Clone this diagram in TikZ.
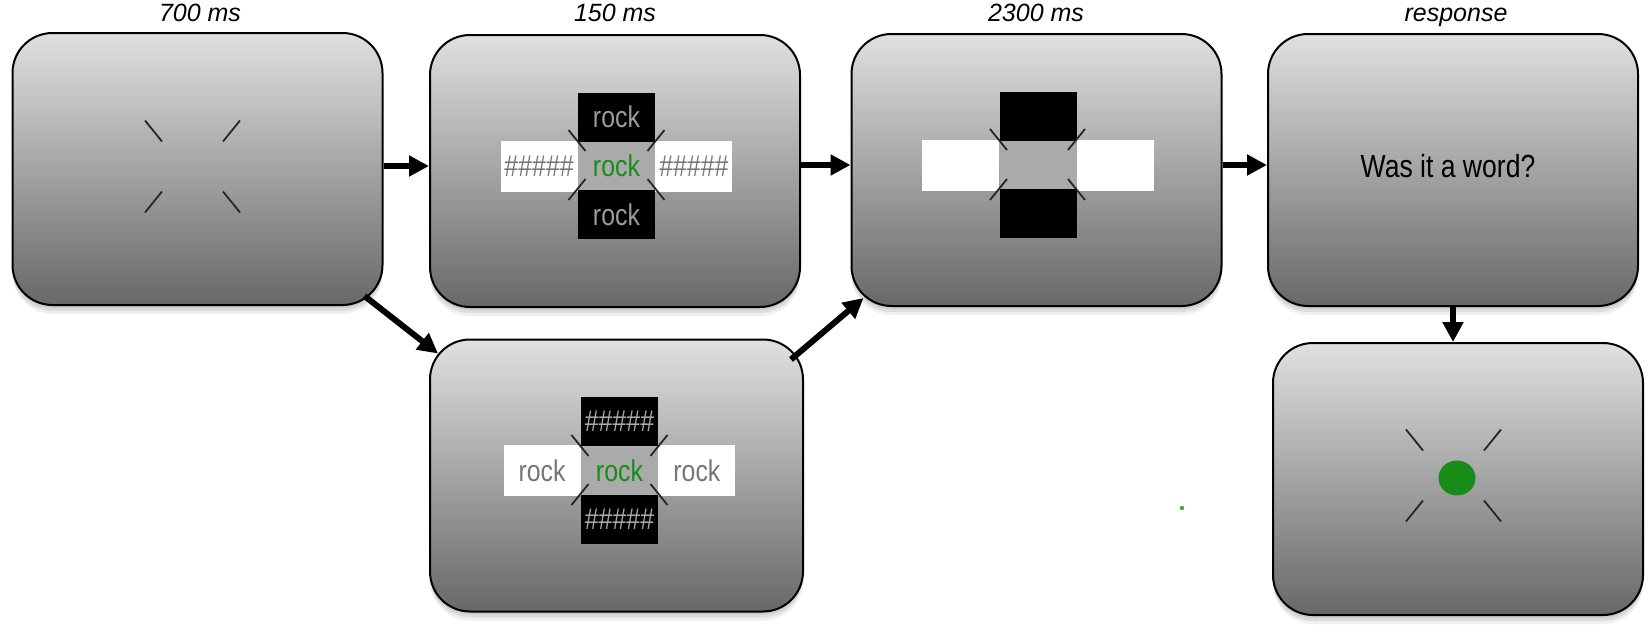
\documentclass[tikz,border=0pt]{standalone}
\usepackage{fontspec}
\setmainfont{Liberation Sans}
\newfontfamily\condfont[FakeStretch=0.83]{Liberation Sans}
\usetikzlibrary{arrows.meta,shadows,positioning}
\definecolor{gtop}{RGB}{224,224,224}
\definecolor{gmid}{RGB}{165,165,165}
\definecolor{gbot}{RGB}{104,104,104}
\definecolor{cgray}{RGB}{170,170,170}
\definecolor{rgreen}{RGB}{24,140,24}
\definecolor{lgtext}{RGB}{155,155,155}
\definecolor{dgtext}{RGB}{118,118,118}
\newcommand\fixmark[4]{%
  \draw[tickline] ({#1-#3},{#2-#4}) -- ({#1-#3-17},{#2-#4-21});
  \draw[tickline] ({#1+#3},{#2-#4}) -- ({#1+#3+17},{#2-#4-21});
  \draw[tickline] ({#1-#3},{#2+#4}) -- ({#1-#3-17},{#2+#4+21});
  \draw[tickline] ({#1+#3},{#2+#4}) -- ({#1+#3+17},{#2+#4+21});
}
\begin{document}
\begin{tikzpicture}[x=1pt,y=-1pt,
  panel/.style={draw=black, line width=2pt, rounded corners=40pt,
    minimum width=370pt, minimum height=272pt, inner sep=0pt,
    top color=gtop, middle color=gmid, bottom color=gbot,
    general shadow={fill=black, opacity=0.08, shadow yshift=-3pt},
    general shadow={fill=black, opacity=0.08, shadow yshift=-6pt},
    general shadow={fill=black, opacity=0.06, shadow yshift=-9pt}},
  timelabel/.style={font=\fontsize{25}{28}\selectfont\itshape, inner sep=0pt, anchor=base},
  cell/.style={minimum width=77pt, inner sep=0pt, font=\condfont\fontsize{30}{30}\selectfont},
  midcell/.style={cell, fill=cgray, minimum height=48pt, text=rgreen},
  blackcell/.style={cell, fill=black, minimum height=49pt},
  whitecell/.style={cell, fill=white, minimum height=51pt},
  tickline/.style={line width=1.8pt, draw=black!85},
  arr/.style={line width=6pt, -{Triangle[length=20pt,width=20pt]}},
  question/.style={font=\condfont\fontsize{32}{34}\selectfont, inner sep=0pt}
]
\useasboundingbox (0,0) rectangle (1650,637);

% panels
\node[panel] (b1) at (197.5,169) {};
\node[panel] (b2) at (615,171) {};
\node[panel] (b3) at (1036.5,170) {};
\node[panel] (b4) at (1453,170) {};
\node[panel] (b5) at (1458,479) {};
\node[panel, minimum width=373pt] (b6) at (616.5,475.5) {};

% time labels
\node[timelabel] (l1) at (200,21) {700 ms};
\node[timelabel] (l2) at (615,21) {150 ms};
\node[timelabel] (l3) at (1036,21) {2300 ms};
\node[timelabel] (l4) at (1456,21) {response};

% panel 1: fixation
\fixmark{192.5}{166.5}{30.5}{25}

% panel 2: cross
\node[midcell] (c2) at (616.5,166) {rock};
\node[blackcell, text=lgtext, above=0pt of c2] (c2t) {rock};
\node[blackcell, text=lgtext, below=0pt of c2] (c2b) {rock};
\node[whitecell, text=dgtext, left=0pt of c2] (c2l) {\#\#\#\#\#};
\node[whitecell, text=dgtext, right=0pt of c2] (c2r) {\#\#\#\#\#};
\fixmark{616.5}{165}{31}{14}

% panel 3: blank cross
\node[midcell] (c3) at (1038,165) {};
\node[blackcell, above=0pt of c3] (c3t) {};
\node[blackcell, below=0pt of c3] (c3b) {};
\node[whitecell, left=0pt of c3] (c3l) {};
\node[whitecell, right=0pt of c3] (c3r) {};
\fixmark{1037.5}{164.5}{30.5}{14.5}

% panel 6: alternative cross
\node[midcell] (c6) at (619.5,470.5) {rock};
\node[blackcell, text=cgray, above=0pt of c6] (c6t) {\#\#\#\#\#};
\node[blackcell, text=cgray, below=0pt of c6] (c6b) {\#\#\#\#\#};
\node[whitecell, text=dgtext, left=0pt of c6] (c6l) {rock};
\node[whitecell, text=dgtext, right=0pt of c6] (c6r) {rock};
\fixmark{619.5}{470}{31}{14}

% panel 4: question
\node[question] (q) at (1448,166) {Was it a word?};

% panel 5: fixation with green dot
\fixmark{1453.5}{475.5}{30.5}{25}
\fill[rgreen] (1457,478) ellipse [x radius=18.5, y radius=17.5];

% stray dot
\fill[rgreen!80] (1182,508) circle (2.2);

% connectors
\draw[arr] (b1.east |- c2.center) -- (b2.west |- c2.center);
\draw[arr] (b2.east |- c3.center) -- (b3.west |- c3.center);
\draw[arr] (b3.east |- c3.center) -- (b4.west |- c3.center);
\draw[arr] (b4.south) -- (b4.south |- b5.north);
\draw[arr] ([xshift=-19pt,yshift=10pt]b1.south east) -- ([xshift=9pt,yshift=-15pt]b6.north west);
\draw[arr] ([xshift=-13pt,yshift=-21pt]b6.north east) -- ([xshift=13pt,yshift=9pt]b3.south west);
\end{tikzpicture}
\end{document}
